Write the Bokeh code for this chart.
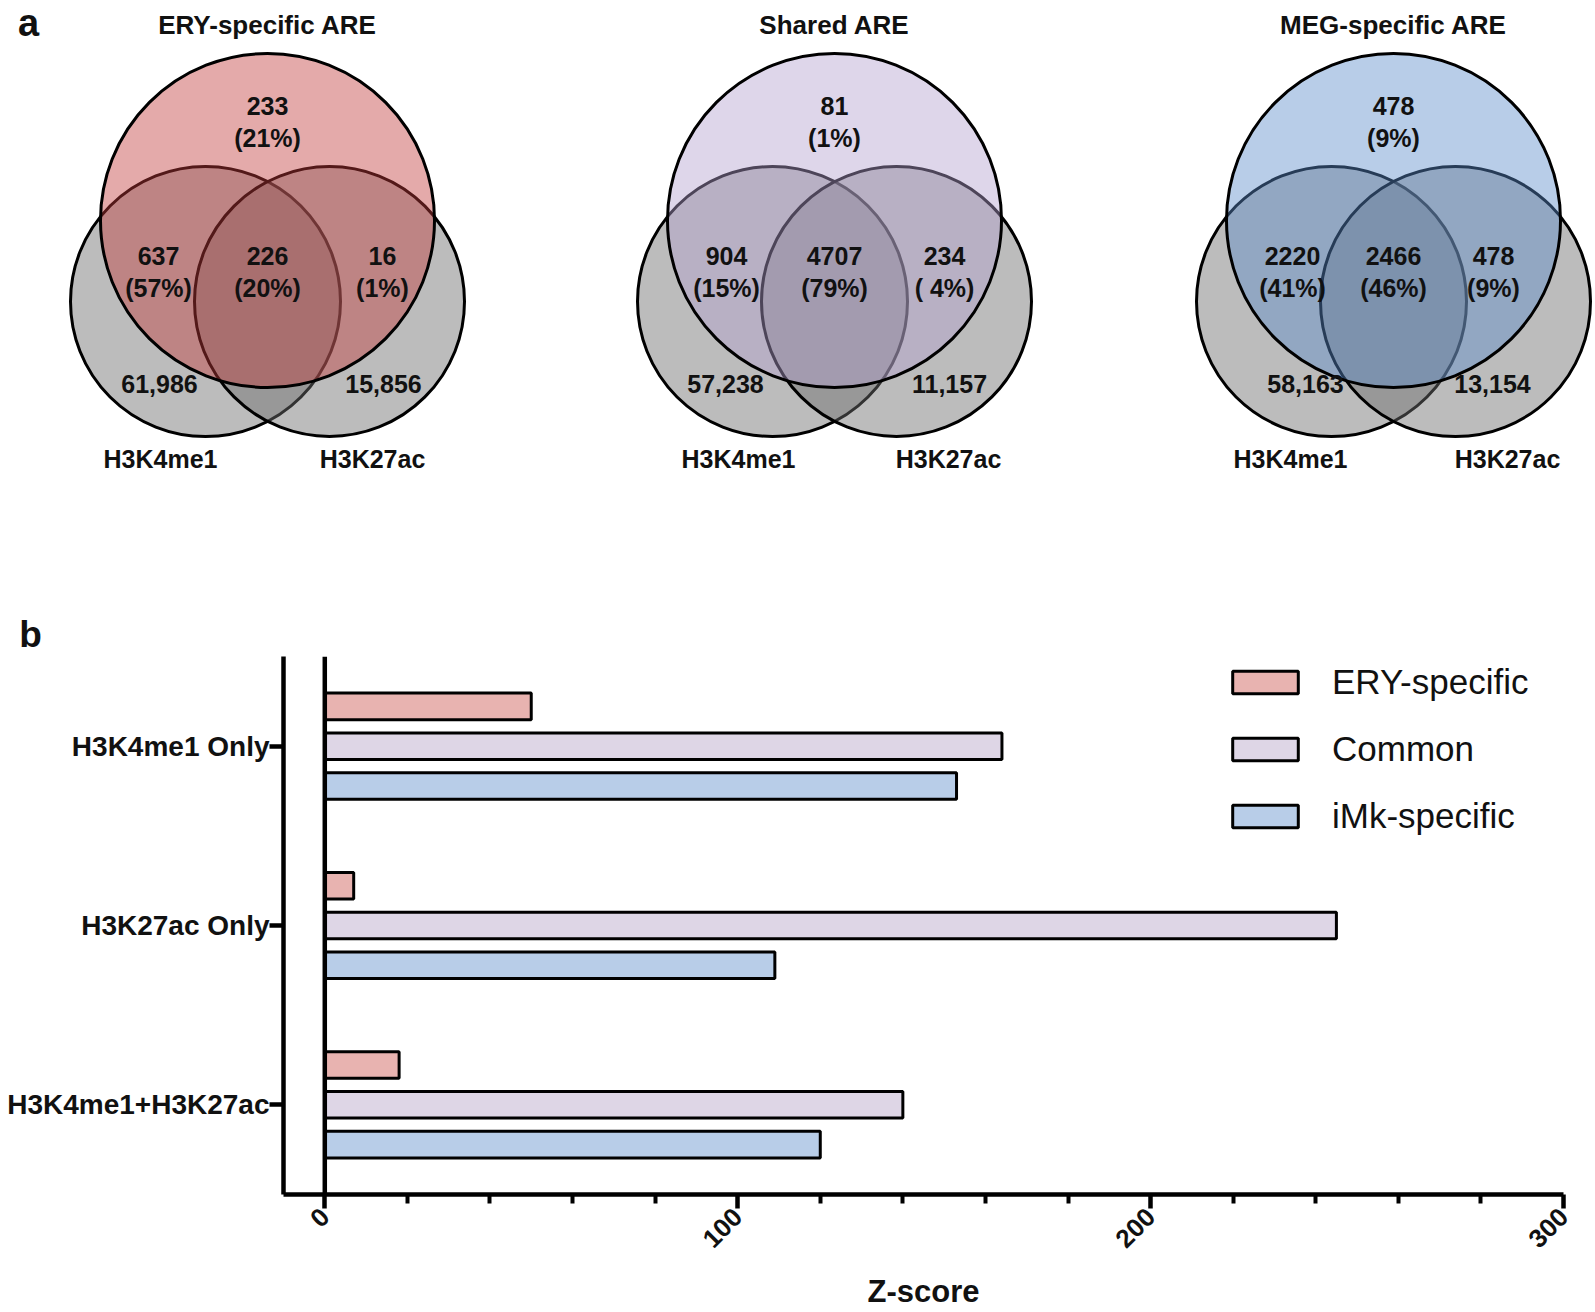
import numpy as np
from bokeh.plotting import figure
from bokeh.models import (ColumnDataSource, FactorRange, FixedTicker, Span,
                          Legend, LegendItem, Range1d)
from bokeh.transform import dodge
from bokeh.embed import file_html
from bokeh.resources import INLINE
from bokeh.core.properties import value

# ---------------- data: panel a (Venn diagrams) ----------------
venn_titles = ["ERY-specific ARE", "Shared ARE", "MEG-specific ARE"]
top_only = ["233", "81", "478"]
top_only_pct = ["(21%)", "(1%)", "(9%)"]
left_shared = ["637", "904", "2220"]
left_pct = ["(57%)", "(15%)", "(41%)"]
all_shared = ["226", "4707", "2466"]
all_pct = ["(20%)", "(79%)", "(46%)"]
right_shared = ["16", "234", "478"]
right_pct = ["(1%)", "( 4%)", "(9%)"]
h3k4me1_rest = ["61,986", "57,238", "58,163"]
h3k27ac_rest = ["15,856", "11,157", "13,154"]
set_names = ["H3K4me1", "H3K27ac"]

# ---------------- data: panel b (bars) ----------------
categories = ["H3K4me1 Only", "H3K27ac Only", "H3K4me1+H3K27ac"]
series = ["ERY-specific", "Common", "iMk-specific"]
ery_z = [50, 7, 18]
common_z = [164, 245, 140]
imk_z = [153, 109, 120]
x_ticks = [0, 100, 200, 300]
x_minor = [20, 40, 60, 80, 120, 140, 160, 180, 220, 240, 260, 280]

# ---------------- styles / layout ----------------
FONT = value("Liberation Sans")
venn_fill = ["#c03a3a", "#b2a0ce", "#5a8bc9"]
bar_fill = ["#e8b3b0", "#ded6e6", "#b8cde8"]
gray_fill = "#6e6e6e"

venn_cx = [267, 834, 1393]
top_cy, top_r = 220, 167
low_cy, low_r, low_dx = 301, 135, 62
dx_left_num = [-109, -108, -101]
dx_right_num = [115, 110, 100]
dx_left_gray = [-108, -109, -88]
dx_right_gray = [116, 115, 99]
dx_left_set = [-107, -96, -103]
dx_right_set = [105, 114, 114]

W = 1595
HA = 656
pa = figure(width=W, height=HA, x_range=Range1d(0, W), y_range=Range1d(HA, 0),
            output_backend="svg", toolbar_location=None, min_border=0,
            outline_line_color=None)
pa.axis.visible = False
pa.grid.visible = False

for i in range(3):
    cx = venn_cx[i]
    pa.circle(x=[cx - low_dx, cx + low_dx], y=[low_cy, low_cy], radius=low_r,
              fill_color=gray_fill, fill_alpha=0.46, line_color="black", line_width=3)
    pa.circle(x=[cx], y=[top_cy], radius=top_r, fill_color=venn_fill[i], fill_alpha=0.43,
              line_color="black", line_width=3)

tx, ty, tt = [], [], []
for i in range(3):
    cx = venn_cx[i]
    items = [
        (cx, 105, top_only[i]), (cx, 137, top_only_pct[i]),
        (cx + dx_left_num[i], 255, left_shared[i]), (cx + dx_left_num[i], 287, left_pct[i]),
        (cx, 255, all_shared[i]), (cx, 287, all_pct[i]),
        (cx + dx_right_num[i], 255, right_shared[i]), (cx + dx_right_num[i], 287, right_pct[i]),
        (cx + dx_left_gray[i], 383, h3k4me1_rest[i]), (cx + dx_right_gray[i], 383, h3k27ac_rest[i]),
        (cx + dx_left_set[i], 458, set_names[0]), (cx + dx_right_set[i], 458, set_names[1]),
    ]
    for x, y, t in items:
        tx.append(x); ty.append(y); tt.append(t)
pa.text(x="x", y="y", text="t", source=ColumnDataSource(dict(x=tx, y=ty, t=tt)),
        text_font=FONT, text_font_style="bold", text_font_size="25px",
        text_align="center", text_baseline="middle", text_color="#111111")
pa.text(x=venn_cx, y=[24, 24, 24], text=venn_titles, text_font=FONT, text_font_style="bold",
        text_font_size="26px", text_align="center", text_baseline="middle", text_color="#111111")
pa.text(x=[28], y=[22], text=["a"], text_font=FONT, text_font_style="bold",
        text_font_size="38px", text_align="center", text_baseline="middle", text_color="#111111")
pa.text(x=[30], y=[634], text=["b"], text_font=FONT, text_font_style="bold",
        text_font_size="37px", text_align="center", text_baseline="middle", text_color="#111111")

# ---------------- panel b ----------------
pb = figure(width=W, height=1312 - HA, y_range=FactorRange(factors=categories[::-1]),
            x_range=Range1d(-10, 300), output_backend="svg", toolbar_location=None,
            min_border_left=283, min_border_right=32, min_border_top=0, min_border_bottom=118,
            outline_line_color=None)
pb.grid.visible = False
pb.y_range.range_padding = 0

src = ColumnDataSource(dict(cat=categories, ery=ery_z, common=common_z, imk=imk_z))
offsets = [0.222, 0.0, -0.222]
renderers = []
for col, off, c in zip(["ery", "common", "imk"], offsets, bar_fill):
    r = pb.hbar(y=dodge("cat", off, range=pb.y_range), left=0, right=col, height=0.148,
                fill_color=c, line_color="black", line_width=3, source=src)
    renderers.append(r)

pb.add_layout(Span(location=0, dimension="height", line_color="black", line_width=4.5))

xa = pb.xaxis[0]
xa.ticker = FixedTicker(ticks=x_ticks, minor_ticks=x_minor)
xa.axis_line_width = 4.5
xa.major_tick_line_width = 4.5
xa.minor_tick_line_width = 4
xa.major_tick_out = 14
xa.major_tick_in = 0
xa.minor_tick_out = 9
xa.minor_tick_in = 0
xa.major_label_orientation = np.pi / 4
xa.major_label_standoff = 4
xa.major_label_text_font = "Liberation Sans"
xa.major_label_text_font_style = "bold"
xa.major_label_text_font_size = "26px"
xa.major_label_text_color = "#111111"
xa.axis_label = "Z-score"
xa.axis_label_text_font = "Liberation Sans"
xa.axis_label_text_font_style = "bold"
xa.axis_label_text_font_size = "31px"
xa.axis_label_text_color = "#111111"
xa.axis_label_standoff = 15

ya = pb.yaxis[0]
ya.axis_line_width = 4.5
ya.major_tick_line_width = 4.5
ya.major_tick_out = 14
ya.major_tick_in = 0
ya.major_label_standoff = 0
ya.major_label_text_font = "Liberation Sans"
ya.major_label_text_font_style = "bold"
ya.major_label_text_font_size = "28px"
ya.major_label_text_color = "#111111"

legend = Legend(items=[LegendItem(label=s, renderers=[r]) for s, r in zip(series, renderers)],
                location=(941, 357), border_line_color=None, background_fill_alpha=0,
                padding=0, margin=0, spacing=25, glyph_width=82, glyph_height=28,
                label_height=42, label_standoff=26, label_text_font="Liberation Sans",
                label_text_font_size="35px", label_text_color="#111111")
pb.add_layout(legend)

open("out.html", "w").write(file_html([pa, pb], INLINE))
